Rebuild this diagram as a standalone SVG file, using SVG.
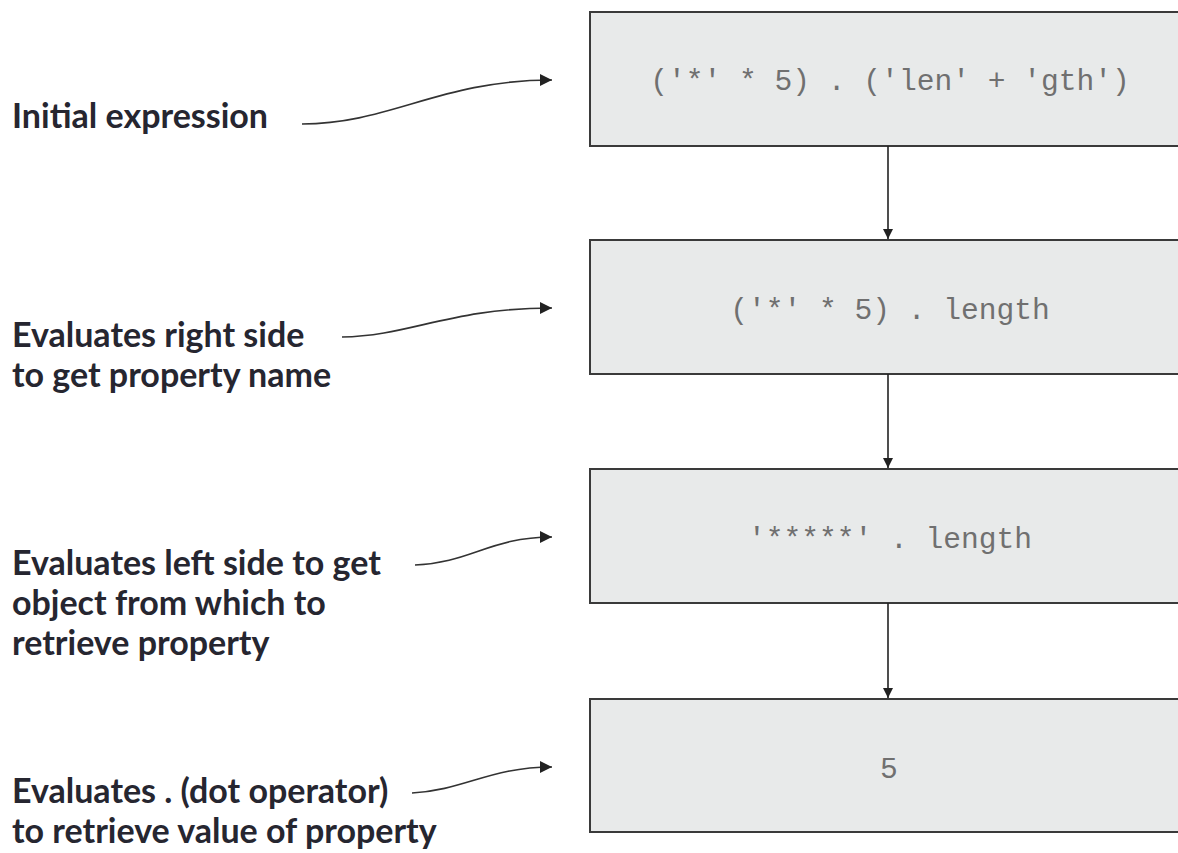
<svg xmlns="http://www.w3.org/2000/svg" width="1178" height="853" viewBox="0 0 1178 853">
<style>
.box{fill:#e8eaea;stroke:#3a3a3a;stroke-width:2}
.code{font-family:"Liberation Mono",monospace;font-size:29.6px;fill:#707070;text-anchor:middle}
.lbl{font-family:Lato,"Open Sans",sans-serif;font-weight:bold;font-size:34px;fill:#262630}
.conn{fill:none;stroke:#222;stroke-width:1.6}
.curve{fill:none;stroke:#333;stroke-width:1.6}
</style>
<defs>
<marker id="ah" viewBox="0 0 10 10" refX="10" refY="5" markerWidth="10" markerHeight="10" markerUnits="userSpaceOnUse" orient="auto">
<path d="M0,0 L10,5 L0,10 z" fill="#222"/>
</marker>
<marker id="ah2" viewBox="0 0 12 12" refX="12" refY="6" markerWidth="12" markerHeight="12" markerUnits="userSpaceOnUse" orient="auto">
<path d="M0,0 L12,6 L0,12 z" fill="#222"/>
</marker>
</defs>
<rect width="1178" height="853" fill="#fff"/>
<g id="node1"><rect class="box" x="590" y="12" width="590" height="134"/><text class="code" x="890" y="90">('*' * 5) . ('len' + 'gth')</text></g>
<g id="node2"><rect class="box" x="590" y="240" width="590" height="134"/><text class="code" x="890" y="319">('*' * 5) . length</text></g>
<g id="node3"><rect class="box" x="590" y="469" width="590" height="134"/><text class="code" x="890" y="548">'*****' . length</text></g>
<g id="node4"><rect class="box" x="590" y="699" width="590" height="133"/><text class="code" x="889" y="778">5</text></g>
<g id="label1"><text class="lbl" x="12" y="128">Initial expression</text></g>
<g id="label2"><text class="lbl" x="12" y="347">Evaluates right side</text><text class="lbl" x="12" y="387">to get property name</text></g>
<g id="label3"><text class="lbl" x="12" y="575">Evaluates left side to get</text><text class="lbl" x="12" y="615">object from which to</text><text class="lbl" x="12" y="655">retrieve property</text></g>
<g id="label4"><text class="lbl" x="12" y="803">Evaluates . (dot operator)</text><text class="lbl" x="12" y="843">to retrieve value of property</text></g>
<g id="connectors">
<path class="conn" d="M888,146 V239" marker-end="url(#ah)"/>
<path class="conn" d="M888,374 V468" marker-end="url(#ah)"/>
<path class="conn" d="M888,603 V698" marker-end="url(#ah)"/>
<path class="curve" d="M302,124 C390,124 440,80 552,80" marker-end="url(#ah2)"/>
<path class="curve" d="M342,337 C410,336 450,308 552,308" marker-end="url(#ah2)"/>
<path class="curve" d="M415,565 C470,563 490,537 552,537" marker-end="url(#ah2)"/>
<path class="curve" d="M412,793 C465,790 490,767 552,767" marker-end="url(#ah2)"/>
</g>
</svg>
